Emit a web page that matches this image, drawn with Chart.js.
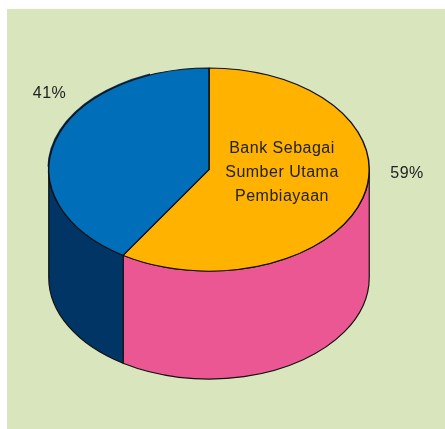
<!DOCTYPE html>
<html>
<head>
<meta charset="utf-8">
<style>
  html, body { margin: 0; background: #fff; overflow: hidden; }
  #panel { position: absolute; left: 7px; top: 9px; width: 438px; height: 420px; background: #d8e5bd; }
  #pie { position: absolute; left: 0; top: 0; }
</style>
<script src="https://cdn.jsdelivr.net/npm/chart.js@4"></script>
</head>
<body>
<div id="panel"></div>
<canvas id="pie" width="445" height="429"></canvas>
<script>
// Data
const categories = ["Bank Sebagai Sumber Utama Pembiayaan", "Lainnya"];
const sliceValues = [59, 41];
const centerLines = ["Bank Sebagai", "Sumber Utama", "Pembiayaan"];

const topColors = ["#ffb300", "#006eb9"];
const wallColors = ["#eb5792", "#003566"];
const outline = "#111";

// Look of the cylinder
const squash = 0.634;
const depth = 108;

// Flattens the pie and draws the side wall under it
const cylinder = {
  id: "cylinder",
  beforeDatasetsDraw(chart) {
    const ctx = chart.ctx;
    const arcs = chart.getDatasetMeta(0).data;
    const { x: cx, y: cy, outerRadius: r } = arcs[0].getProps(["x", "y", "outerRadius"]);
    const ry = r * squash;

    ctx.save();
    ctx.lineWidth = 1.2;
    ctx.strokeStyle = outline;
    arcs.forEach((arc, i) => {
      const p = arc.getProps(["startAngle", "endAngle"]);
      // only the part facing the viewer
      const from = Math.max(p.startAngle, 0);
      const to = Math.min(p.endAngle, Math.PI);
      if (to <= from) return;
      ctx.beginPath();
      ctx.ellipse(cx, cy, r, ry, 0, from, to);
      ctx.lineTo(cx + r * Math.cos(to), cy + ry * Math.sin(to) + depth);
      ctx.ellipse(cx, cy + depth, r, ry, 0, to, from, true);
      ctx.closePath();
      ctx.fillStyle = wallColors[i];
      ctx.fill();
      ctx.stroke();
    });
    ctx.restore();

    // thin dark rim showing behind the blue slice, tapers off by itself
    ctx.save();
    ctx.beginPath();
    ctx.rect(0, 0, 150, cy - 3);
    ctx.clip();
    ctx.beginPath();
    ctx.ellipse(cx - 1.3, cy - 1.1, r, ry, 0, 0, Math.PI * 2);
    ctx.fillStyle = wallColors[1];
    ctx.fill();
    ctx.restore();

    ctx.save();
    ctx.translate(cx, cy);
    ctx.scale(1, squash);
    ctx.translate(-cx, -cy);
  },
  afterDatasetsDraw(chart) {
    const ctx = chart.ctx;
    ctx.restore();

    ctx.save();
    ctx.fillStyle = "#222";
    ctx.font = '16px "Liberation Sans", Arial, sans-serif';
    ctx.letterSpacing = "0.5px";
    ctx.textAlign = "center";
    centerLines.forEach((line, i) => ctx.fillText(line, 282, 153 + i * 24));
    ctx.fillText(sliceValues[0] + "%", 407, 178);
    ctx.fillText(sliceValues[1] + "%", 49.5, 98);
    ctx.restore();
  }
};

new Chart(document.getElementById("pie"), {
  type: "pie",
  data: {
    labels: categories,
    datasets: [{
      data: sliceValues,
      backgroundColor: topColors,
      borderColor: outline,
      borderWidth: 1.5,
      hoverOffset: 0
    }]
  },
  options: {
    responsive: false,
    animation: false,
    events: [],
    layout: { padding: { left: 48, right: 75, top: 8.5, bottom: 98.5 } },
    plugins: { legend: { display: false }, tooltip: { enabled: false } }
  },
  plugins: [cylinder]
});
</script>
</body>
</html>
